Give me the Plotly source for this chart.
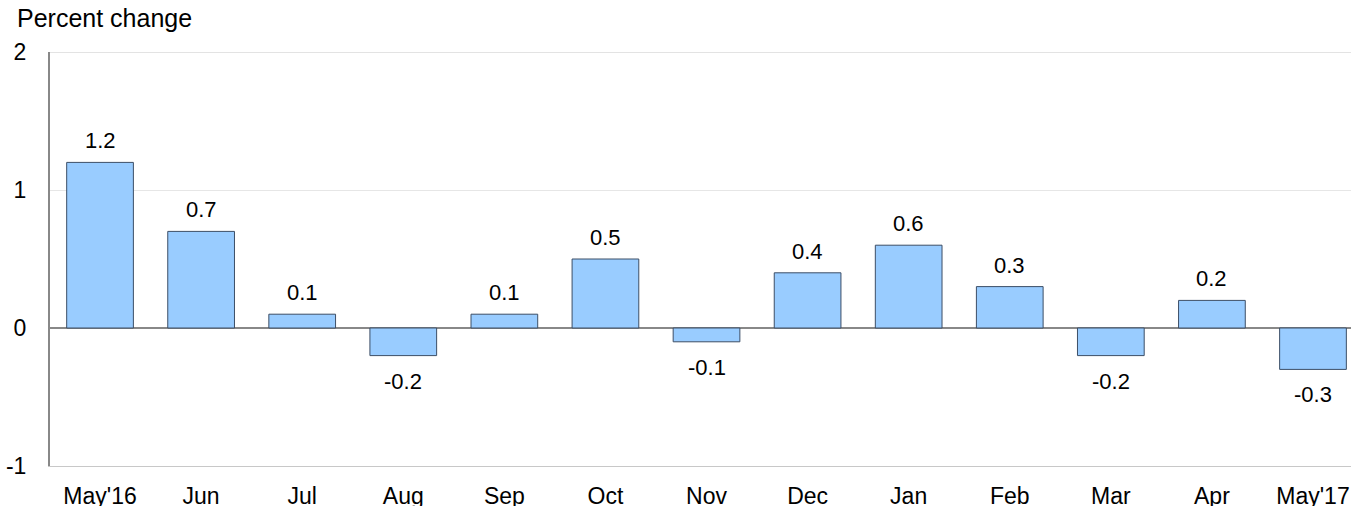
import plotly.graph_objects as go

categories = ["May'16", "Jun", "Jul", "Aug", "Sep", "Oct", "Nov", "Dec", "Jan", "Feb", "Mar", "Apr", "May'17"]
values = [1.2, 0.7, 0.1, -0.2, 0.1, 0.5, -0.1, 0.4, 0.6, 0.3, -0.2, 0.2, -0.3]
y_ticks = [-1, 0, 1, 2]
y_tick_labels = ["-1", "0", "1", "2"]

font_family = "Liberation Sans, Arial, sans-serif"
xs = list(range(len(categories)))

fig = go.Figure(go.Bar(
    x=xs,
    y=values,
    width=0.66,
    marker=dict(color="#99ccff", line=dict(color="#3c4e66", width=1)),
    hoverinfo="x+y",
))

annotations = [dict(text="Percent change", xref="paper", yref="paper", x=0, y=1,
                    xshift=-35, yshift=18, xanchor="left", yanchor="bottom",
                    showarrow=False, font=dict(family=font_family, size=25, color="#000000"))]
for xi, v in zip(xs, values):
    annotations.append(dict(
        x=xi, y=v, xref="x", yref="y", text=f"{v:.1f}", showarrow=False,
        yanchor="bottom" if v >= 0 else "top",
        yshift=7 if v >= 0 else -11,
        font=dict(family=font_family, size=22, color="#000000"),
    ))

fig.update_layout(
    width=1351, height=506,
    margin=dict(l=50, r=0, t=52, b=40, autoexpand=False),
    plot_bgcolor="white", paper_bgcolor="white",
    showlegend=False,
    font=dict(family=font_family, size=23, color="#000000"),
    annotations=annotations,
)
fig.update_xaxes(
    tickmode="array", tickvals=xs, ticktext=categories,
    range=[-0.495, 12.376], showgrid=False, zeroline=False,
    showline=True, linecolor="#c8c8c8", linewidth=1,
    ticks="outside", ticklen=9, tickcolor="rgba(0,0,0,0)",
    tickfont=dict(family=font_family, size=23, color="#000000"),
    automargin=False,
)
fig.update_yaxes(
    range=[-1, 2], tickmode="array", tickvals=y_ticks, ticktext=y_tick_labels,
    showgrid=True, gridcolor="#e6e6e6", gridwidth=1,
    zeroline=True, zerolinecolor="#888888", zerolinewidth=2,
    showline=True, linecolor="#888888", linewidth=2,
    ticks="outside", ticklen=17, tickcolor="rgba(0,0,0,0)",
    tickfont=dict(family=font_family, size=23, color="#000000"),
    automargin=False,
)
fig.add_shape(type="line", xref="paper", yref="y", x0=0, x1=1, y0=2, y1=2,
              line=dict(color="#c8c8c8", width=1), layer="below")

fig.write_html("out.html", config={"displayModeBar": False},
               post_script="document.body.style.margin='0';")
